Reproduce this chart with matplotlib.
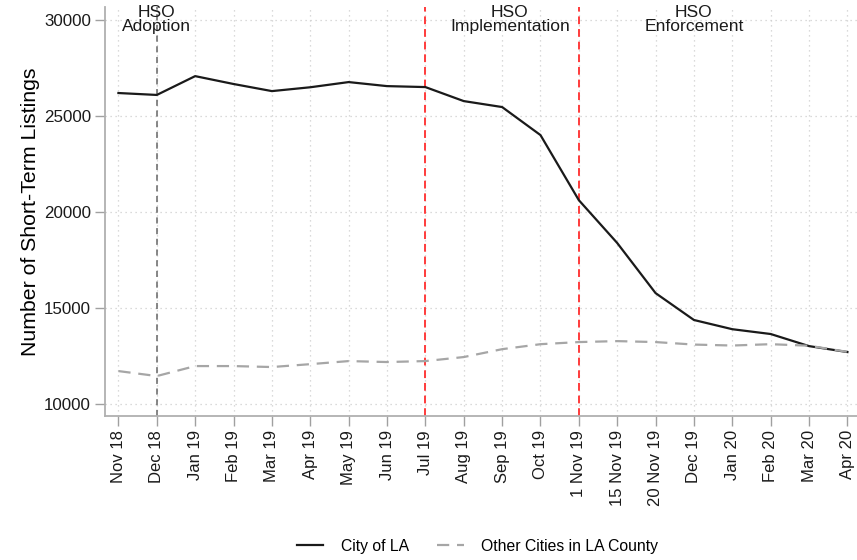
import matplotlib
matplotlib.use("Agg")
import matplotlib.pyplot as plt
import numpy as np

plt.rcParams['font.family'] = ['Liberation Sans', 'DejaVu Sans']

months = ["Nov 18", "Dec 18", "Jan 19", "Feb 19", "Mar 19", "Apr 19", "May 19",
          "Jun 19", "Jul 19", "Aug 19", "Sep 19", "Oct 19", "1 Nov 19",
          "15 Nov 19", "20 Nov 19", "Dec 19", "Jan 20", "Feb 20", "Mar 20", "Apr 20"]
city_la = [26200, 26100, 27080, 26670, 26300, 26500, 26770, 26560, 26510, 25780,
           25470, 24010, 20620, 18390, 15780, 14380, 13900, 13650, 13020, 12710]
other_cities = [11720, 11460, 11980, 11980, 11930, 12080, 12240, 12190, 12240, 12450,
                12860, 13120, 13230, 13280, 13230, 13100, 13050, 13120, 13040, 12720]
events = [("Dec 18", "HSO\nAdoption", "dimgray"),
          ("Jul 19", "HSO\nImplementation", "#ff3b3b"),
          ("1 Nov 19", "HSO\nEnforcement", "#ff3b3b")]
label_pos = [1, 10.2, 15]

fig = plt.figure(figsize=(8.57, 5.6), dpi=100)
ax = fig.add_axes([105/857, 1-416/560, 752/857, 409/560])
x = np.arange(len(months))

ax.plot(x, city_la, color="#1a1a1a", lw=1.6, label="City of LA", zorder=3)
ax.plot(x, other_cities, color="#a6a6a6", lw=1.6, ls=(0, (5.5, 3.5)),
        label="Other Cities in LA County", zorder=3)

for (m, txt, col), lp in zip(events, label_pos):
    xi = months.index(m)
    if col == "dimgray":
        ax.axvline(xi, color="#666666", lw=1.1, ls=(0, (4, 3)), zorder=2)
    else:
        ax.axvline(xi, color=col, lw=1.4, ls=(0, (4, 2.5)), zorder=2)
    ax.text(lp, 30800, txt, ha="center", va="top", fontsize=12.6, color="#1a1a1a",
            linespacing=0.95)

ax.set_xlim(-0.35, 19.25)
ax.set_ylim(9380, 30680)
ax.set_xticks(x)
ax.set_xticklabels(months, rotation=90, fontsize=12)
ax.set_yticks([10000, 15000, 20000, 25000, 30000])
ax.set_yticklabels(["10000", "15000", "20000", "25000", "30000"], fontsize=12.2)
ax.set_ylabel("Number of Short-Term Listings", fontsize=15.3, labelpad=3)

ax.grid(True, color="#cfcfcf", ls=(0, (1, 3)), lw=0.9)
ax.set_axisbelow(True)
for s in ["top", "right"]:
    ax.spines[s].set_visible(False)
for s in ["left", "bottom"]:
    ax.spines[s].set_color("#b0b0b0")
    ax.spines[s].set_linewidth(1.3)
ax.tick_params(axis="both", color="#a0a0a0", length=7, width=1, labelcolor="#1a1a1a",
               pad=3)

fig.legend(loc="center", bbox_to_anchor=(0.557, 1-546/560), ncol=2, frameon=False,
           fontsize=11.3, handlelength=1.7, handletextpad=1.1, columnspacing=1.8)

fig.savefig("out.png", dpi=100, facecolor="white")
